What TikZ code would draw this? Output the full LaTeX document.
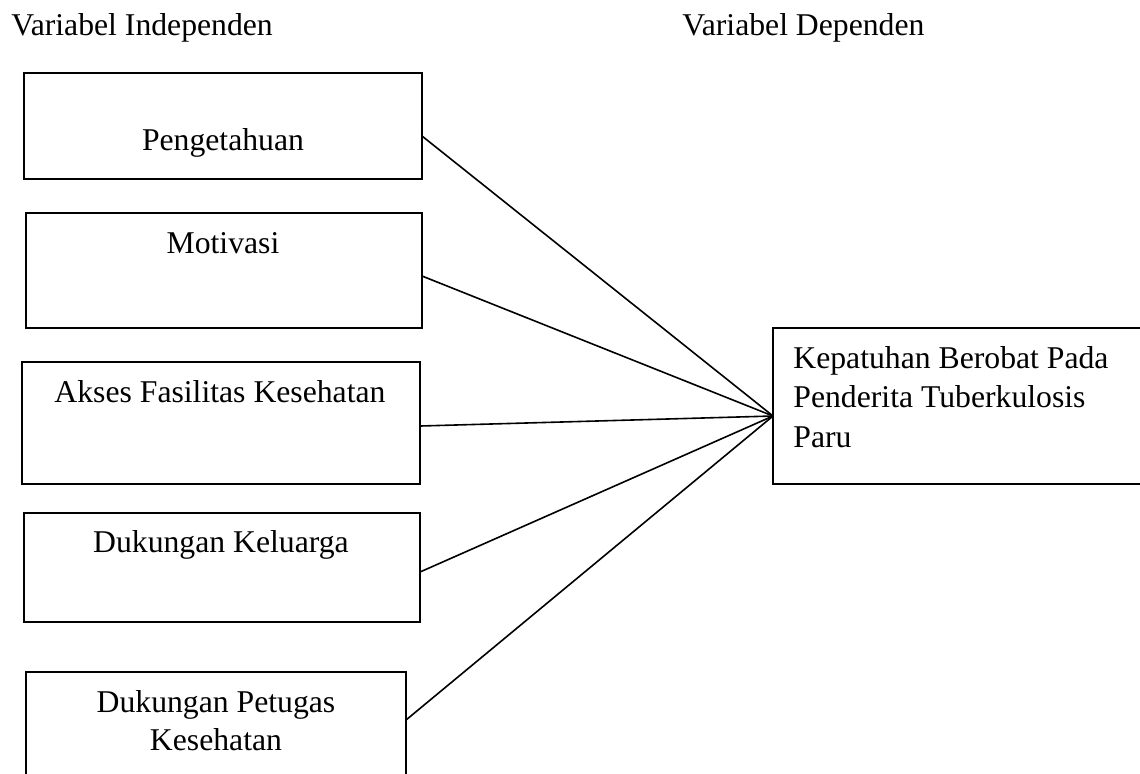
\documentclass[tikz,border=0pt]{standalone}
\usepackage{fontspec}
\setmainfont{Liberation Serif}
\begin{document}
\begin{tikzpicture}[x=0.5pt,y=-0.5pt,
  box/.style={draw,line width=0.9pt,rectangle,inner sep=0pt},
  lbl/.style={inner sep=0pt,anchor=base,font=\fontsize{15.85pt}{19.5pt}\selectfont},
  conn/.style={line width=0.8pt}]
\useasboundingbox (0,0) rectangle (1140,773);
\clip (0,0) rectangle (1140,773);
% titles
\node[lbl,anchor=base west] (t1) at (11,35) {Variabel Independen};
\node[lbl,anchor=base west] (t2) at (682,35) {Variabel Dependen};
% boxes
\draw[box] (24,73) rectangle (422,179);
\coordinate (b1e) at (422,136);
\draw[box] (26,213) rectangle (422,328);
\coordinate (b2e) at (422,276);
\draw[box] (22,362) rectangle (420,484);
\coordinate (b3e) at (420,426);
\draw[box] (24,513) rectangle (420,622);
\coordinate (b4e) at (420,572);
\draw[box] (26,672) rectangle (406,800);
\coordinate (b5e) at (406,720);
\draw[box] (773,328) rectangle (1160,484);
\coordinate (y) at (773,416);
% labels
\node[lbl] (l1) at (223,150) {Pengetahuan};
\node[lbl] (l2) at (223,253) {Motivasi};
\node[lbl] (l3) at (220,402) {Akses Fasilitas Kesehatan};
\node[lbl] (l4) at (221,552) {Dukungan Keluarga};
\node[lbl] (l5a) at (216,712) {Dukungan Petugas};
\node[lbl] (l5b) at (216,750) {Kesehatan};
\node[lbl,anchor=base west] (r1) at (793,368) {Kepatuhan Berobat Pada};
\node[lbl,anchor=base west] (r2) at (793,407) {Penderita Tuberkulosis};
\node[lbl,anchor=base west] (r3) at (793,447) {Paru};
% connectors
\draw[conn] (b1e) -- (y);
\draw[conn] (b2e) -- (y);
\draw[conn] (b3e) -- (y);
\draw[conn] (b4e) -- (y);
\draw[conn] (b5e) -- (y);
\end{tikzpicture}
\end{document}
